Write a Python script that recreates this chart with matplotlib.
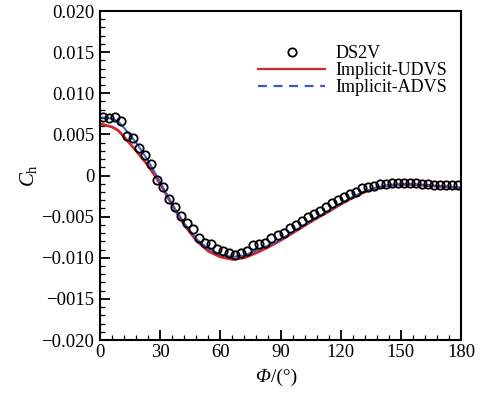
import numpy as np
import matplotlib
matplotlib.use('Agg')
import matplotlib.pyplot as plt
from matplotlib.lines import Line2D
from matplotlib.ticker import MultipleLocator, FixedLocator, FixedFormatter

plt.rcParams['font.family'] = ['Liberation Serif', 'DejaVu Serif']
plt.rcParams['mathtext.fontset'] = 'custom'
plt.rcParams['mathtext.rm'] = 'Liberation Serif'
plt.rcParams['mathtext.it'] = 'Liberation Serif:italic'

# DS2V samples (deg, Ch)
phi_ds2v = np.arange(1.5, 180, 3.0)
ch_ds2v = [0.00715, 0.00696, 0.00708, 0.00667, 0.00481, 0.00460, 0.00331, 0.00246,
           0.00144, -0.00055, -0.00136, -0.00280, -0.00387, -0.00489, -0.00582,
           -0.00655, -0.00764, -0.00818, -0.00837, -0.00898, -0.00918, -0.00946,
           -0.00971, -0.00946, -0.00915, -0.00846, -0.00833, -0.00825, -0.00764,
           -0.00724, -0.00696, -0.00642, -0.00602, -0.00554, -0.00509, -0.00468,
           -0.00428, -0.00380, -0.00338, -0.00298, -0.00258, -0.00225, -0.00197,
           -0.00156, -0.00136, -0.00124, -0.00107, -0.00103, -0.00095, -0.00095,
           -0.00095, -0.00095, -0.00095, -0.00103, -0.00107, -0.00116, -0.00116,
           -0.00116, -0.00116, -0.00116]

# curves
phi_line = [0, 6, 9, 12, 18, 24, 30, 36, 42, 48, 54, 60, 66, 72, 78, 84, 90, 96, 102,
            108, 114, 120, 126, 132, 138, 144, 150, 156, 162, 168, 174, 180]
ch_udvs = [0.0063, 0.0059, 0.0055, 0.0047, 0.0030, 0.0012, -0.0010, -0.0036, -0.0060,
           -0.0079, -0.0092, -0.0099, -0.0102, -0.0100, -0.0094, -0.0087, -0.0079,
           -0.0070, -0.0061, -0.0052, -0.0044, -0.0035, -0.0027, -0.0020, -0.0015,
           -0.0012, -0.0011, -0.0011, -0.0012, -0.0013, -0.0014, -0.0015]
ch_advs = [0.0071, 0.0069, 0.0066, 0.0058, 0.0040, 0.0018, -0.0008, -0.0035, -0.0058,
           -0.0077, -0.0089, -0.0096, -0.0099, -0.0097, -0.0091, -0.0085, -0.0078,
           -0.0069, -0.0060, -0.0051, -0.0043, -0.0034, -0.0026, -0.0019, -0.0015,
           -0.0012, -0.0011, -0.0011, -0.0012, -0.0013, -0.0014, -0.0015]

yticks = [-0.020, -0.015, -0.010, -0.005, 0, 0.005, 0.010, 0.015, 0.020]
ylabels = ['\u22120.020', '\u22120015', '\u22120.010', '\u22120.005', '0',
           '0.005', '0.010', '0.015', '0.020']

red = '#d3262b'
blue = '#3b5bc4'

fig = plt.figure(figsize=(4.91, 3.96), dpi=100)
ax = fig.add_axes([0.2037, 0.1414, 0.7352, 0.8308])

ax.plot(phi_line, ch_udvs, color=red, lw=2.0)
ax.plot(phi_line, ch_advs, color=blue, lw=1.4)
ax.plot(phi_ds2v, ch_ds2v, 'o', ms=6, mfc='none', mec='black', mew=1.3)

ax.set_xlim(0, 180)
ax.set_ylim(-0.020, 0.020)
ax.xaxis.set_major_locator(MultipleLocator(30))
ax.xaxis.set_minor_locator(MultipleLocator(6))
ax.yaxis.set_major_locator(FixedLocator(yticks))
ax.yaxis.set_major_formatter(FixedFormatter(ylabels))
ax.yaxis.set_minor_locator(MultipleLocator(0.001))
ax.tick_params(which='both', direction='in', labelsize=13.5, width=1.3)
ax.tick_params(which='major', length=7, pad=4)
ax.tick_params(which='minor', length=3.5, width=0.9)
ax.tick_params(axis='x', pad=3)
for s in ax.spines.values():
    s.set_linewidth(1.5)

# x label: italic Phi followed by upright unit
ax.text(0.472, -0.115, 'Φ', style='italic', fontsize=14, ha='right', va='center',
        transform=ax.transAxes)
ax.text(0.474, -0.115, '/(°)', fontsize=14, ha='left', va='center',
        transform=ax.transAxes)
ax.set_ylabel(r'$C_{\rm h}$', fontsize=15, labelpad=2)

handles = [Line2D([], [], ls='none', marker='o', ms=6, mfc='none', mec='black', mew=1.3),
           Line2D([], [], color=red, lw=1.6),
           Line2D([], [], color=blue, lw=1.6, ls=(0, (4, 3)))]
ax.legend(handles, ['DS2V', 'Implicit-UDVS', 'Implicit-ADVS'], loc='upper right',
          bbox_to_anchor=(0.998, 0.935), frameon=False, fontsize=13,
          handlelength=3.7, handletextpad=0.6, labelspacing=0.0, borderpad=0.2)

fig.savefig('out.png', dpi=100)
